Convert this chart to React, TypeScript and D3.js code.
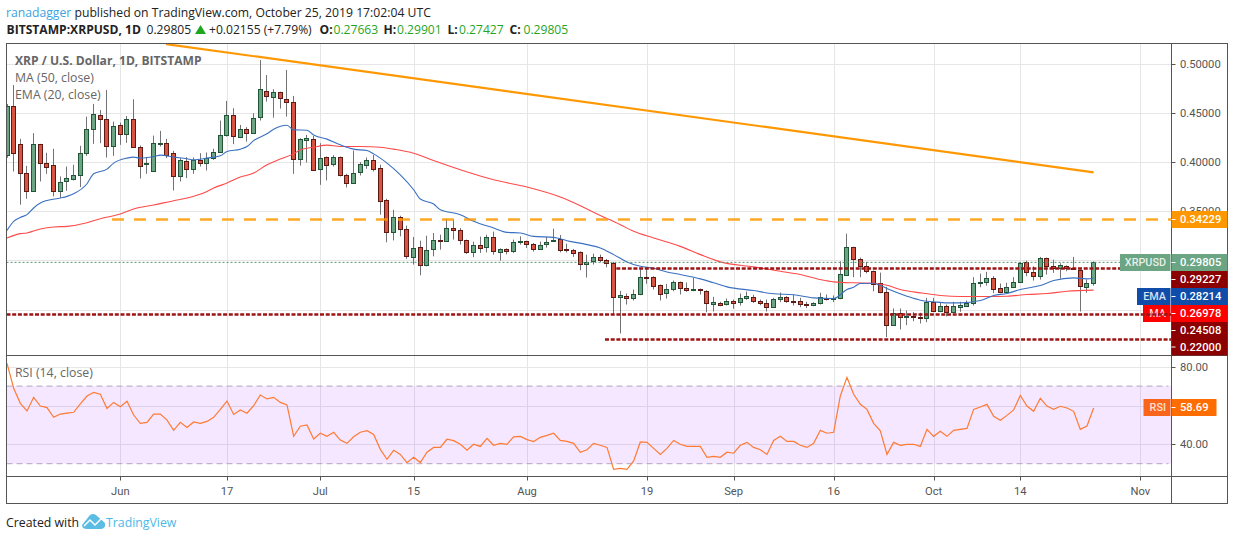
import React from 'react';
import { scaleLinear, line, curveMonotoneX } from 'd3';

// daily candles, 15 May to 25 Oct 2019
const opens = [
  0.4075, 0.4573, 0.4184, 0.3889, 0.3702, 0.4184, 0.3997, 0.3971, 0.3709, 0.3804,
  0.3834, 0.3869, 0.4092, 0.4336, 0.4479, 0.4438, 0.417, 0.4377, 0.4286, 0.4438,
  0.416, 0.3977, 0.391, 0.4184, 0.4194, 0.4092, 0.3855, 0.4011, 0.3926, 0.4021,
  0.3987, 0.4042, 0.4103, 0.4275, 0.4479, 0.4261, 0.4336, 0.4296, 0.4458, 0.4728,
  0.4661, 0.4712, 0.4647, 0.4611, 0.4032, 0.4231, 0.4235, 0.393, 0.4052, 0.3977,
  0.4052, 0.3869, 0.3788, 0.3899, 0.3971, 0.4021, 0.394, 0.3618, 0.329, 0.3442,
  0.332, 0.3036, 0.3137, 0.295, 0.3117, 0.3209, 0.3194, 0.333, 0.331, 0.3204,
  0.3087, 0.3158, 0.3137, 0.3239, 0.3087, 0.3117, 0.3093, 0.3184, 0.3198, 0.3168,
  0.3113, 0.3164, 0.3194, 0.3219, 0.3117, 0.3107, 0.3087, 0.2965, 0.2995, 0.3036,
  0.3005, 0.2975, 0.2625, 0.264, 0.2615, 0.266, 0.2833, 0.2833, 0.2751, 0.2666,
  0.2711, 0.2782, 0.2721, 0.2697, 0.2711, 0.269, 0.2558, 0.2568, 0.2554, 0.2589,
  0.2579, 0.2619, 0.2629, 0.2589, 0.2568, 0.2524, 0.2605, 0.2629, 0.2592, 0.2589,
  0.2561, 0.2548, 0.2564, 0.2619, 0.2609, 0.2619, 0.2849, 0.3137, 0.3016, 0.2944,
  0.2893, 0.2772, 0.268, 0.2341, 0.2467, 0.2422, 0.2436, 0.2426, 0.2412, 0.2579,
  0.2483, 0.2538, 0.2473, 0.2524, 0.2541, 0.2564, 0.2768, 0.2782, 0.2822, 0.2721,
  0.2676, 0.2731, 0.2782, 0.2981, 0.2883, 0.2843, 0.3026, 0.2944, 0.292, 0.2944,
  0.2924, 0.29, 0.2727, 0.27663,
];
const highs = [
  0.4593, 0.4786, 0.4238, 0.3963, 0.4296, 0.4187, 0.4096, 0.4136, 0.3855, 0.3956,
  0.3974, 0.4167, 0.4464, 0.4593, 0.4532, 0.4736, 0.4414, 0.4403, 0.4471, 0.4641,
  0.417, 0.4052, 0.4271, 0.4319, 0.4238, 0.4116, 0.4042, 0.4052, 0.4048, 0.4092,
  0.4099, 0.4136, 0.4424, 0.4624, 0.455, 0.438, 0.4357, 0.4499, 0.504, 0.4888,
  0.4743, 0.4718, 0.4939, 0.4675, 0.4245, 0.4278, 0.4268, 0.4194, 0.4058, 0.4072,
  0.4058, 0.3882, 0.4119, 0.4001, 0.4048, 0.4075, 0.3974, 0.3628, 0.3516, 0.3455,
  0.3354, 0.3239, 0.3201, 0.3252, 0.328, 0.3262, 0.3425, 0.3415, 0.333, 0.3212,
  0.3191, 0.3242, 0.3262, 0.3293, 0.3123, 0.3123, 0.3212, 0.3245, 0.3201, 0.3178,
  0.3191, 0.3239, 0.3323, 0.3259, 0.3171, 0.3117, 0.3093, 0.3059, 0.3069, 0.3059,
  0.3015, 0.2985, 0.269, 0.2663, 0.2704, 0.2924, 0.2924, 0.2839, 0.2754, 0.2762,
  0.2795, 0.2785, 0.2775, 0.2822, 0.2714, 0.2697, 0.2629, 0.2579, 0.2612, 0.2602,
  0.2663, 0.2683, 0.265, 0.2602, 0.2602, 0.2619, 0.2673, 0.2636, 0.265, 0.2619,
  0.2579, 0.2575, 0.267, 0.2653, 0.2643, 0.2991, 0.3273, 0.314, 0.3029, 0.2985,
  0.2897, 0.2876, 0.2731, 0.2511, 0.2511, 0.249, 0.2473, 0.2467, 0.2619, 0.2619,
  0.2568, 0.2551, 0.2579, 0.2579, 0.2592, 0.2829, 0.2866, 0.2883, 0.2839, 0.2765,
  0.2772, 0.2829, 0.2985, 0.2998, 0.294, 0.3036, 0.3029, 0.3008, 0.2971, 0.295,
  0.3036, 0.2907, 0.2805, 0.29901,
];
const lows = [
  0.4045, 0.3906, 0.3567, 0.3628, 0.3699, 0.3804, 0.3882, 0.3652, 0.3638, 0.3709,
  0.3814, 0.3747, 0.4065, 0.4187, 0.4194, 0.4048, 0.4065, 0.4177, 0.4197, 0.4155,
  0.3834, 0.3882, 0.3906, 0.416, 0.4042, 0.3712, 0.3804, 0.3838, 0.3882, 0.3956,
  0.3916, 0.4024, 0.4099, 0.4261, 0.4184, 0.4245, 0.421, 0.429, 0.4424, 0.4617,
  0.4454, 0.4546, 0.4464, 0.3882, 0.3966, 0.3997, 0.3918, 0.377, 0.3814, 0.3956,
  0.3855, 0.3743, 0.3785, 0.3865, 0.3933, 0.3906, 0.3466, 0.3184, 0.3204, 0.3245,
  0.3015, 0.2958, 0.2849, 0.294, 0.3042, 0.311, 0.319, 0.3212, 0.3161, 0.3066,
  0.3032, 0.3076, 0.3082, 0.3059, 0.2998, 0.3062, 0.3076, 0.3161, 0.3127, 0.309,
  0.311, 0.313, 0.3191, 0.3082, 0.3082, 0.3036, 0.29, 0.2826, 0.2958, 0.2981,
  0.293, 0.245, 0.2257, 0.2551, 0.2592, 0.2646, 0.2762, 0.2704, 0.2592, 0.2612,
  0.2686, 0.2653, 0.268, 0.2686, 0.2653, 0.2473, 0.248, 0.2534, 0.2541, 0.2508,
  0.2541, 0.2599, 0.2568, 0.2544, 0.248, 0.2518, 0.2575, 0.2568, 0.2541, 0.2524,
  0.2514, 0.2534, 0.2551, 0.2592, 0.2575, 0.2605, 0.2845, 0.2829, 0.2829, 0.2869,
  0.2686, 0.2666, 0.2219, 0.2337, 0.2297, 0.2341, 0.2381, 0.2358, 0.2371, 0.2473,
  0.2473, 0.2429, 0.2467, 0.2477, 0.2531, 0.2541, 0.2727, 0.2744, 0.2666, 0.2666,
  0.267, 0.2727, 0.2778, 0.2839, 0.2795, 0.2805, 0.2856, 0.2873, 0.2815, 0.289,
  0.2904, 0.248, 0.267, 0.27427,
];
const closes = [
  0.4573, 0.4092, 0.3889, 0.3702, 0.4184, 0.3991, 0.3956, 0.3702, 0.3798, 0.3838,
  0.3869, 0.4092, 0.4336, 0.4489, 0.4438, 0.417, 0.4367, 0.4286, 0.4438, 0.416,
  0.3966, 0.3997, 0.4194, 0.4194, 0.4075, 0.3855, 0.4021, 0.3926, 0.4021, 0.3997,
  0.4042, 0.4103, 0.4275, 0.4479, 0.4268, 0.4342, 0.4296, 0.4448, 0.4743, 0.4672,
  0.4712, 0.4651, 0.4611, 0.4032, 0.4235, 0.4245, 0.3923, 0.4042, 0.3971, 0.4052,
  0.3865, 0.3784, 0.3889, 0.3981, 0.4021, 0.393, 0.3605, 0.329, 0.3442, 0.332,
  0.3042, 0.3127, 0.295, 0.3107, 0.3209, 0.3194, 0.333, 0.3306, 0.3209, 0.3087,
  0.3158, 0.3127, 0.3239, 0.3093, 0.3117, 0.3097, 0.3188, 0.3198, 0.3164, 0.3113,
  0.3158, 0.3188, 0.3209, 0.3103, 0.3103, 0.3072, 0.2965, 0.2985, 0.3036, 0.3001,
  0.2978, 0.2625, 0.2643, 0.2615, 0.266, 0.2833, 0.2819, 0.2737, 0.2656, 0.2711,
  0.2782, 0.2717, 0.2697, 0.2711, 0.2697, 0.2564, 0.2579, 0.2548, 0.2589, 0.2564,
  0.2619, 0.264, 0.2585, 0.2568, 0.2524, 0.2609, 0.2629, 0.2585, 0.2582, 0.2554,
  0.2548, 0.2568, 0.2629, 0.2605, 0.2619, 0.2863, 0.3137, 0.3011, 0.294, 0.2893,
  0.2765, 0.2676, 0.2341, 0.2467, 0.2422, 0.2436, 0.2422, 0.2412, 0.2579, 0.2483,
  0.2538, 0.2473, 0.2538, 0.2551, 0.2564, 0.2772, 0.2785, 0.2822, 0.2711, 0.2676,
  0.2731, 0.2782, 0.2975, 0.2883, 0.2839, 0.3026, 0.294, 0.292, 0.2954, 0.2924,
  0.291, 0.2737, 0.2772, 0.29805,
];

// RSI (14), one value per candle
const rsiValues = [
  81.7, 68.9, 61.1, 57.2, 64.2, 59.7, 58.9, 53.9, 55.6, 56.1,
  56.5, 60.8, 64.9, 66.8, 65.8, 58.5, 61.6, 59.4, 62.2, 55.1,
  50.8, 51.3, 55.6, 55.6, 52.5, 47.2, 51.3, 48.7, 51.5, 50.8,
  51.8, 53.9, 58.0, 62.3, 55.4, 57.7, 56.0, 59.9, 65.4, 63.4,
  64.2, 61.6, 60.3, 44.1, 49.3, 50.0, 42.7, 45.7, 44.1, 46.2,
  42.2, 40.5, 43.9, 46.2, 47.0, 45.1, 37.4, 32.3, 36.9, 34.8,
  30.5, 33.3, 30.6, 35.9, 38.4, 38.4, 42.6, 41.9, 40.0, 36.9,
  40.0, 38.9, 43.1, 39.5, 40.5, 40.0, 43.8, 44.1, 42.4, 41.4,
  43.6, 44.6, 45.7, 42.0, 41.5, 40.5, 35.9, 37.2, 40.5, 39.5,
  38.4, 27.1, 27.6, 27.1, 31.4, 41.2, 41.0, 37.9, 34.8, 37.9,
  42.0, 40.0, 38.9, 38.9, 38.9, 33.3, 33.8, 33.3, 35.9, 35.4,
  39.5, 41.0, 38.4, 37.2, 34.8, 42.0, 44.1, 41.5, 41.5, 39.5,
  38.4, 40.5, 47.2, 45.7, 46.2, 64.9, 74.5, 65.8, 60.6, 58.0,
  50.8, 46.9, 34.8, 41.0, 39.5, 40.0, 40.0, 38.9, 47.7, 44.1,
  46.7, 44.1, 47.2, 47.7, 48.2, 58.0, 59.2, 60.6, 54.4, 52.4,
  54.9, 57.7, 65.2, 59.7, 57.0, 63.7, 59.7, 58.0, 59.6, 58.7,
  57.0, 47.7, 49.4, 58.69,
];

// EMA 20
const emaDays = [
  0, 1, 2, 3, 4, 5, 6, 8, 9, 10, 12, 13, 15, 16, 18, 19, 20, 22, 23, 25, 27, 28, 30, 32, 33, 35, 36, 37, 39, 40,
  42, 43, 45, 46, 48, 50, 52, 54, 55, 57, 59, 61, 62, 64, 65, 68, 70, 73, 75, 77, 79, 82, 84, 87, 89, 91, 93, 95,
  97, 99, 101, 104, 106, 108, 112, 115, 118, 121, 124, 126, 127, 128, 130, 131, 133, 135, 137, 139, 141, 143, 146,
  148, 150, 152, 155, 157, 160, 162, 163,
];
const emaValues = [
  0.3306, 0.3398, 0.3438, 0.3466, 0.3534, 0.3584, 0.3611, 0.3635, 0.3652, 0.3679, 0.3781, 0.3882, 0.393, 0.3991,
  0.4042, 0.4052, 0.4042, 0.4058, 0.4072, 0.4052, 0.4035, 0.4024, 0.4042, 0.4065, 0.4109, 0.4133, 0.416, 0.422,
  0.4289, 0.4336, 0.4377, 0.4329, 0.4326, 0.4278, 0.4235, 0.4177, 0.4133, 0.4119, 0.4085, 0.3991, 0.3872, 0.372,
  0.3625, 0.3574, 0.3516, 0.3466, 0.3398, 0.333, 0.3286, 0.328, 0.3245, 0.3235, 0.3201, 0.3161, 0.3127, 0.3059,
  0.2985, 0.294, 0.292, 0.2883, 0.2856, 0.2812, 0.2772, 0.2731, 0.2693, 0.266, 0.265, 0.2619, 0.2612, 0.2704,
  0.2727, 0.2765, 0.2768, 0.2744, 0.2686, 0.2636, 0.2595, 0.2579, 0.2568, 0.2568, 0.2592, 0.2643, 0.2663, 0.2704,
  0.2744, 0.2795, 0.2822, 0.2812, 0.28214,
];

// MA 50
const maDays = [
  0, 2, 3, 5, 7, 9, 12, 14, 17, 19, 22, 25, 27, 30, 31, 33, 35, 37, 39, 41, 43, 44, 46, 48, 50, 53, 56, 58, 61, 64,
  68, 73, 78, 83, 86, 89, 92, 94, 97, 101, 104, 107, 112, 116, 119, 122, 124, 127, 130, 132, 134, 137, 140, 143,
  147, 150, 153, 156, 159, 163,
];
const maValues = [
  0.3229, 0.3273, 0.328, 0.332, 0.3341, 0.3347, 0.3384, 0.3425, 0.3473, 0.3524, 0.3564, 0.3608, 0.3635, 0.3702,
  0.3737, 0.3788, 0.3849, 0.3889, 0.3974, 0.4032, 0.4085, 0.4126, 0.4153, 0.4174, 0.416, 0.416, 0.4153, 0.4133,
  0.4092, 0.4017, 0.3923, 0.3821, 0.3747, 0.3645, 0.3557, 0.3458, 0.3364, 0.3296, 0.3229, 0.3143, 0.3059, 0.2985,
  0.2934, 0.289, 0.2856, 0.2805, 0.2782, 0.2772, 0.2768, 0.2747, 0.2704, 0.267, 0.2643, 0.2632, 0.2632, 0.2635,
  0.2653, 0.2663, 0.2686, 0.26978,
];

const trendDays = [23.85, 163];
const trendPrices = [0.5203, 0.3897];

const supportFullWidth = 0.24508;
const supportShort = 0.22;
const resistanceShort = 0.29227;
const resistanceDashed = 0.34229;
const lastPrice = 0.29805;
const emaLast = 0.28214;
const maLast = 0.26978;
const rsiLast = 58.69;

const priceTicks = [0.5, 0.45, 0.4, 0.35, 0.3, 0.25];
const priceTickLabels = [0.5, 0.45, 0.4, 0.35];
const rsiTicks = [80, 60, 40];
const rsiTickLabels = [80, 40];
const timeDays = [17, 33, 47, 61, 78, 96, 109, 124, 139, 152, 170];
const timeLabels = ['Jun', '17', 'Jul', '15', 'Aug', '19', 'Sep', '16', 'Oct', '14', 'Nov'];

const FONT = '"Open Sans", "Noto Sans", sans-serif';
const AXIS_FONT = 'Roboto, "Open Sans", sans-serif';
const UP = '#6ba583';
const UP_EDGE = '#225437';
const DOWN = '#d75442';
const DOWN_EDGE = '#5b1a13';
const WICK = '#737375';
const GRID = '#e6e6e6';
const FRAME = '#555';
const DARKRED = '#8b0000';
const LEVEL_RED = '#9c1414';

const LEFT = 6.5;
const AXIS = 1171.5;
const RIGHT = 1227.5;
const TOP = 43.5;
const PANE = 355.5;
const TIME = 476.5;
const BOTTOM = 503.5;
const LABEL_X = 1180;

const x = scaleLinear().domain([0, 170]).range([7, 1140.3]);
const y = scaleLinear().domain([0.5, 0.22]).range([64, 339]);
const yRsi = scaleLinear().domain([80, 40]).range([366.7, 444.3]);

const snap = (v: number) => Math.round(v) + 0.5;

const priceLine = (days: number[], values: number[]) =>
  line<number>()
    .x((d, i) => x(days[i]))
    .y((d) => y(d))
    .curve(curveMonotoneX)(values) as string;

const rsiPath = line<number>()
  .x((d, i) => x(i))
  .y((d) => yRsi(d))(rsiValues) as string;

// stacked price labels on the right axis
function AxisBadge({ top, fill, value }: { top: number; fill: string; value: number }) {
  return (
    <g>
      <rect x={AXIS} y={top} width={RIGHT - AXIS} height={17} fill={fill} />
      <line x1={AXIS} x2={AXIS + 4} y1={top + 8.5} y2={top + 8.5} stroke="#fff" />
      <text x={LABEL_X} y={top + 12.4} fontFamily={AXIS_FONT} fontSize={11.2} fontWeight={500} fill="#fff">
        {value.toFixed(5)}
      </text>
    </g>
  );
}

function SideTag({ left, top, fill, label }: { left: number; top: number; fill: string; label: string }) {
  return (
    <g>
      <rect x={left} y={top} width={AXIS - 1 - left} height={17} fill={fill} />
      <text x={1166} y={top + 12.4} textAnchor="end" fontFamily={AXIS_FONT} fontSize={10.8} fontWeight={500} fill="#fff" fillOpacity={0.85}>
        {label}
      </text>
    </g>
  );
}

function LevelLine({ x1, x2, price }: { x1: number; x2: number; price: number }) {
  return <line x1={x1} x2={x2} y1={snap(y(price))} y2={snap(y(price))} stroke={LEVEL_RED} strokeWidth={2.4} strokeDasharray="4 1.7" />;
}

export default function App() {
  return (
    <svg width={1234} height={540} viewBox="0 0 1234 540" style={{ position: 'absolute', left: 0, top: 0, background: '#fff' }}>
      <defs>
        <clipPath id="pricePane">
          <rect x={LEFT} y={TOP} width={AXIS - LEFT} height={PANE - TOP} />
        </clipPath>
      </defs>

      {/* header */}
      <text x={6} y={17} fontFamily={FONT} fontSize={12.2} fill="#222">
        <tspan fill="#3ba3e0">ranadagger</tspan> published on TradingView.com, October 25, 2019 17:02:04 UTC
      </text>
      <g fontFamily={FONT} fontSize={12.1} fill="#222">
        <text x={6.5} y={34} fontWeight={700}>BITSTAMP:XRPUSD, 1D</text>
        <text x={146.5} y={34}>{lastPrice.toFixed(5)}</text>
        <path d="M195,34 L200.5,25 L206,34 Z" fill="#1fa61f" />
        <text x={209} y={34}>+0.02155 (+7.79%)</text>
        <text x={319.5} y={34} fontWeight={700}>O:</text>
        <text x={333.5} y={34} fill="#1fa61f">0.27663</text>
        <text x={383.5} y={34} fontWeight={700}>H:</text>
        <text x={397} y={34} fill="#1fa61f">0.29901</text>
        <text x={447.5} y={34} fontWeight={700}>L:</text>
        <text x={459} y={34} fill="#1fa61f">0.27427</text>
        <text x={509.5} y={34} fontWeight={700}>C:</text>
        <text x={523.5} y={34} fill="#1fa61f">0.29805</text>
      </g>

      {/* grid */}
      <g stroke={GRID}>
        {priceTicks.map((t) => (
          <line key={t} x1={LEFT} x2={AXIS} y1={snap(y(t))} y2={snap(y(t))} />
        ))}
        {rsiTicks.map((t) => (
          <line key={t} x1={LEFT} x2={AXIS} y1={snap(yRsi(t))} y2={snap(yRsi(t))} />
        ))}
        {timeDays.map((d) => (
          <line key={d} x1={snap(x(d))} x2={snap(x(d))} y1={TOP} y2={TIME} />
        ))}
      </g>

      {/* candles */}
      <g clipPath="url(#pricePane)">
        {closes.map((c, i) => {
          const up = c >= opens[i];
          const cx = snap(x(i) - 0.5);
          const top = snap(y(Math.max(opens[i], c)));
          const bottom = snap(y(Math.min(opens[i], c)));
          return (
            <g key={i}>
              <line x1={cx} x2={cx} y1={y(highs[i])} y2={y(lows[i])} stroke={WICK} strokeWidth={1} />
              <rect
                x={cx - 2}
                y={top}
                width={4}
                height={Math.max(bottom - top, 1)}
                fill={up ? UP : DOWN}
                stroke={up ? UP_EDGE : DOWN_EDGE}
                strokeWidth={1}
              />
            </g>
          );
        })}
        <path d={priceLine(maDays, maValues)} fill="none" stroke="#ff4a4a" strokeWidth={1.1} />
        <path d={priceLine(emaDays, emaValues)} fill="none" stroke="#3a70c0" strokeWidth={1.1} />
        <path d={priceLine(trendDays, trendPrices)} fill="none" stroke="#ff9800" strokeWidth={2.2} />
      </g>

      {/* level lines */}
      <line x1={x(15.75)} x2={AXIS} y1={snap(y(resistanceDashed))} y2={snap(y(resistanceDashed))} stroke="#ff9800" strokeOpacity={0.85} strokeWidth={2.6} strokeDasharray="12 10" />
      <line x1={LEFT} x2={1120} y1={y(lastPrice)} y2={y(lastPrice)} stroke="#53936f" strokeDasharray="2 2" />
      <LevelLine x1={x(91.4)} x2={1120} price={resistanceShort} />
      <LevelLine x1={x(89.7)} x2={AXIS} price={supportShort} />

      <SideTag left={1120} top={254} fill={UP} label="XRPUSD" />
      <SideTag left={1137} top={288} fill="#0f4da8" label="EMA" />
      <SideTag left={1143} top={305} fill="#ff0000" label="MA" />
      <LevelLine x1={LEFT} x2={AXIS} price={supportFullWidth} />

      {/* legend */}
      <g fontFamily={FONT} fontSize={12.3} fill="#666">
        <text x={15} y={64.5} fontWeight={700} fontSize={12.1}>XRP / U.S. Dollar, 1D, BITSTAMP</text>
        <text x={15} y={82}>MA (50, close)</text>
        <text x={15} y={99}>EMA (20, close)</text>
      </g>

      {/* RSI pane */}
      <rect x={LEFT} y={yRsi(70)} width={AXIS - LEFT} height={yRsi(30) - yRsi(70)} fill="#9915ff" fillOpacity={0.1} />
      <g stroke="#b2a6bd" strokeDasharray="6 4">
        <line x1={LEFT} x2={AXIS - 3} y1={yRsi(70)} y2={yRsi(70)} />
        <line x1={LEFT} x2={AXIS - 3} y1={yRsi(30)} y2={yRsi(30)} />
      </g>
      <path d={rsiPath} fill="none" stroke="#ff7a33" strokeWidth={1.2} />
      <text x={15} y={377} fontFamily={FONT} fontSize={12.3} fill="#666">RSI (14, close)</text>

      {/* frame */}
      <g stroke={FRAME} fill="none">
        <rect x={LEFT} y={TOP} width={RIGHT - LEFT} height={BOTTOM - TOP} />
        <line x1={LEFT} x2={RIGHT} y1={PANE} y2={PANE} />
        <line x1={LEFT} x2={RIGHT} y1={TIME} y2={TIME} />
        <line x1={AXIS} x2={AXIS} y1={TOP} y2={BOTTOM} />
      </g>

      {/* price axis */}
      <g fontFamily={AXIS_FONT} fontSize={11.2} fill="#555">
        {priceTickLabels.map((t) => (
          <g key={t}>
            <line x1={AXIS} x2={AXIS + 4} y1={snap(y(t))} y2={snap(y(t))} stroke={FRAME} />
            <text x={LABEL_X} y={y(t) + 4}>{t.toFixed(5)}</text>
          </g>
        ))}
      </g>
      <AxisBadge top={211} fill="#ff9800" value={resistanceDashed} />
      <AxisBadge top={254} fill={UP} value={lastPrice} />
      <AxisBadge top={271} fill={DARKRED} value={resistanceShort} />
      <AxisBadge top={288} fill="#0f4da8" value={emaLast} />
      <AxisBadge top={305} fill="#ff0000" value={maLast} />
      <AxisBadge top={322} fill={DARKRED} value={supportFullWidth} />
      <AxisBadge top={338.5} fill={DARKRED} value={supportShort} />

      {/* RSI axis */}
      <g fontFamily={AXIS_FONT} fontSize={11.2} fill="#555">
        {rsiTickLabels.map((t) => (
          <g key={t}>
            <line x1={AXIS} x2={AXIS + 4} y1={snap(yRsi(t))} y2={snap(yRsi(t))} stroke={FRAME} />
            <text x={LABEL_X} y={yRsi(t) + 4}>{t.toFixed(2)}</text>
          </g>
        ))}
      </g>
      <rect x={1143.5} y={399} width={27} height={17} fill="#f9651a" />
      <text x={1166} y={411.4} textAnchor="end" fontFamily={AXIS_FONT} fontSize={10.8} fontWeight={500} fill="#fff" fillOpacity={0.8}>RSI</text>
      <rect x={AXIS} y={399} width={45} height={17} fill="#ff6d00" />
      <line x1={AXIS} x2={AXIS + 4} y1={407.5} y2={407.5} stroke="#fff" />
      <text x={LABEL_X} y={411.4} fontFamily={AXIS_FONT} fontSize={11.2} fontWeight={500} fill="#fff">{rsiLast.toFixed(2)}</text>

      {/* time axis */}
      <g fontFamily={AXIS_FONT} fontSize={11.2} fill="#555" textAnchor="middle">
        {timeDays.map((d, i) => (
          <g key={d}>
            <line x1={snap(x(d))} x2={snap(x(d))} y1={TIME} y2={TIME + 4} stroke={FRAME} />
            <text x={x(d)} y={495}>{timeLabels[i]}</text>
          </g>
        ))}
      </g>

      {/* footer */}
      <text x={6} y={527} fontFamily={FONT} fontSize={12.3} fill="#222">Created with</text>
      <path d="M82,525 L90,515 Q93,513 96,515 L105,523 Q106,529 100,529 L87,529 Q82,529 82,525 Z" fill="#5bbce4" />
      <path d="M84,526 L90,520 L95,525 L103,517" fill="none" stroke="#fff" strokeWidth={1.5} />
      <text x={106} y={527} fontFamily={FONT} fontSize={12.3} fill="#4db8e8">TradingView</text>
    </svg>
  );
}
